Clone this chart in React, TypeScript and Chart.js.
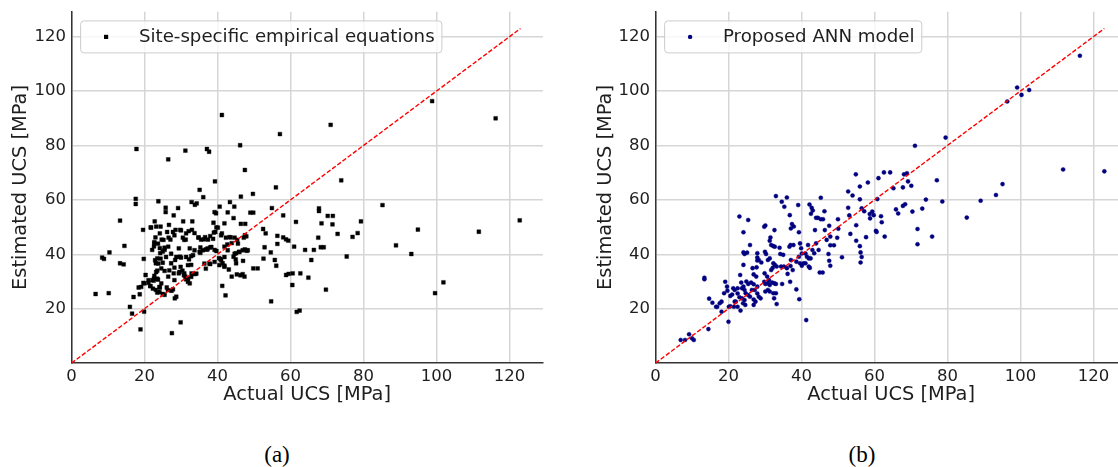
import React, { useEffect, useRef } from 'react';
import { Chart, registerables } from 'chart.js';

Chart.register(...registerables);

// ---------- data ----------
const actualA = [
  41.2, 17.8, 31.2, 37.1, 37.7, 46.2, 26.5, 47.5, 57.1, 71.0, 98.8, 116.2, 73.9, 39.3, 56.0, 35.1, 36.1, 49.7, 46.4, 17.6,
  17.6, 23.8, 34.3, 33.8, 32.9, 43.4, 85.2, 25.8, 29.2, 40.6, 44.6, 54.9, 67.8, 67.8, 25.8, 39.2, 39.6, 42.8, 49.0, 49.8,
  28.0, 58.0, 70.2, 71.6, 13.3, 22.8, 30.6, 33.1, 38.9, 41.9, 44.4, 46.4, 47.6, 61.5, 68.5, 71.5, 79.3, 122.8, 26.7, 21.7,
  19.6, 52.5, 53.2, 39.7, 94.9, 111.6, 72.9, 78.4, 77.0, 67.6, 56.4, 58.0, 58.8, 59.4, 23.0, 24.2, 28.2, 29.8, 31.4, 34.8,
  36.3, 38.0, 39.0, 41.2, 43.6, 45.4, 47.5, 22.7, 25.2, 26.5, 29.4, 30.9, 32.4, 14.5, 8.4, 8.9, 10.4, 13.3, 14.3, 6.6,
  10.2, 16.0, 16.6, 17.0, 18.4, 18.9, 18.7, 19.9, 19.8, 20.3, 19.7, 21.1, 21.6, 22.2, 22.7, 23.5, 22.5, 23.5, 23.1, 23.5,
  24.1, 24.1, 26.1, 25.5, 27.4, 28.3, 27.5, 29.9, 23.1, 23.5, 24.3, 22.1, 25.0, 25.5, 25.0, 26.5, 27.3, 28.0, 28.2, 28.4,
  29.7, 29.9, 30.4, 30.9, 29.4, 31.2, 31.4, 31.9, 32.4, 32.8, 32.2, 33.3, 32.9, 33.8, 35.3, 35.3, 36.8, 37.3, 38.0, 36.8,
  38.0, 39.2, 40.4, 40.8, 41.4, 41.9, 41.3, 42.2, 41.9, 42.7, 43.1, 43.9, 44.4, 45.0, 45.1, 45.1, 45.3, 46.3, 46.9, 47.4,
  45.9, 47.0, 47.5, 48.0, 49.8, 51.0, 52.6, 52.9, 54.6, 55.7, 56.1, 56.4, 54.7, 58.8, 59.5, 60.6, 60.5, 61.0, 61.7, 62.5,
  62.7, 64.9, 64.0, 65.7, 66.4, 68.3, 69.1, 69.7, 75.4, 88.9, 93.1, 99.6, 101.9,
  21.8, 23.2, 24.4, 26.2, 26.6, 24.7, 22.7, 23.7, 22.6, 24.2, 25.5, 27.1, 27.8, 28.5, 30.0, 30.5, 31.3, 32.1, 33.0, 33.7,
  34.8, 35.5, 36.6, 37.4, 38.8, 39.4, 40.1, 41.0, 42.3, 43.3, 43.9, 44.7, 45.6, 47.2, 47.9, 48.3, 46.9, 46.0, 44.7, 42.8,
  41.9, 41.0, 39.7, 38.3, 37.2, 36.0, 35.1, 33.7, 32.8, 31.4, 30.0, 28.7, 27.3, 25.9, 24.4, 22.9, 23.8, 24.6, 25.5, 26.8,
  28.2, 29.6, 30.8, 31.9, 32.8, 34.2, 36.4, 37.8, 39.2, 40.5, 41.9, 31.9, 23.2, 22.6, 23.7, 24.6, 24.2, 23.7, 25.0, 26.4,
  27.8, 28.7, 21.1, 20.0, 19.1, 21.6, 22.3,
];
const estimatedA = [
  91.2, 78.7, 78.1, 78.7, 77.7, 80.1, 74.9, 71.0, 84.2, 87.6, 96.3, 90.0, 67.2, 66.8, 64.6, 63.7, 61.0, 62.2, 61.2, 60.4,
  58.5, 59.5, 58.7, 58.2, 59.2, 59.2, 58.1, 57.1, 57.0, 57.5, 57.5, 57.0, 56.9, 55.9, 55.5, 55.5, 55.1, 55.4, 55.3, 55.3,
  54.3, 54.3, 54.1, 54.1, 52.4, 52.1, 52.1, 52.1, 51.6, 51.4, 53.3, 51.2, 51.2, 51.9, 51.4, 51.0, 52.1, 52.5, 50.8, 49.9,
  49.0, 49.3, 47.7, 49.9, 49.1, 48.3, 47.5, 47.8, 46.4, 46.1, 46.8, 46.2, 45.5, 45.0, 46.2, 47.7, 47.0, 49.0, 47.7, 46.2,
  45.5, 46.7, 48.0, 47.7, 46.2, 45.3, 47.0, 44.0, 45.3, 42.8, 42.2, 45.3, 42.2, 43.1, 38.8, 38.3, 40.7, 36.7, 36.3, 25.4,
  25.7, 20.7, 18.2, 24.3, 27.8, 12.4, 25.3, 18.9, 38.3, 32.4, 29.5, 29.5, 28.3, 30.5, 32.1, 34.0, 30.3, 31.0, 26.9, 25.9,
  28.0, 26.1, 27.8, 25.1, 26.6, 23.8, 11.0, 15.0, 36.7, 38.5, 40.4, 41.6, 41.0, 41.6, 36.9, 31.8, 36.7, 33.0, 30.5, 37.9,
  39.1, 35.4, 34.0, 33.0, 33.0, 31.8, 30.8, 29.9, 29.3, 36.1, 38.1, 39.7, 33.0, 32.7, 42.5, 40.5, 41.8, 42.2, 42.5, 34.7,
  36.4, 41.6, 38.6, 38.3, 36.7, 35.8, 28.4, 24.9, 42.8, 43.6, 34.4, 31.8, 39.1, 38.1, 40.4, 36.7, 32.6, 32.3, 32.7, 31.8,
  40.9, 37.6, 41.8, 41.3, 34.8, 34.8, 38.4, 42.6, 40.7, 37.9, 35.8, 43.8, 22.7, 32.4, 32.8, 33.0, 28.7, 42.8, 18.8, 19.3,
  33.0, 31.4, 41.6, 37.9, 41.6, 42.6, 42.6, 27.0, 39.2, 43.3, 40.1, 25.7, 29.7,
  49.8, 50.2, 50.2, 48.2, 46.1, 45.4, 44.5, 43.9, 42.9, 42.3, 42.4, 45.4, 48.2, 49.0, 48.8, 46.1, 45.4, 48.5, 49.0, 47.8,
  46.1, 45.4, 46.3, 45.4, 45.7, 48.2, 49.8, 47.0, 46.1, 46.3, 44.1, 46.1, 43.9, 46.1, 46.6, 41.5, 41.5, 40.9, 40.2, 41.5,
  39.0, 37.8, 41.2, 42.7, 41.7, 41.5, 40.9, 41.5, 39.3, 39.0, 38.8, 39.0, 40.2, 39.0, 38.4, 37.8, 36.6, 34.8, 33.9, 34.1,
  35.1, 33.5, 32.3, 31.1, 31.7, 32.9, 36.6, 36.6, 37.2, 36.0, 35.4, 36.0, 33.5, 31.1, 30.7, 29.3, 27.8, 26.2, 25.4, 26.8,
  27.1, 24.4, 30.5, 29.3, 28.0, 28.3, 27.4,
];
const actualB = [
  116.3, 99.1, 100.3, 102.4, 96.4, 79.5, 71.1, 111.7, 123.0, 95.1, 93.3, 89.1, 85.3, 74.1, 77.1, 78.6, 73.1, 75.8, 71.8, 71.8,
  70.1, 68.1, 68.9, 69.2, 67.8, 67.8, 68.4, 70.4, 65.2, 65.9, 66.5, 62.6, 64.3, 61.1, 60.8, 61.8, 62.0, 62.8, 60.4, 60.6,
  58.2, 58.7, 58.8, 59.4, 59.8, 57.7, 54.9, 56.0, 56.0, 56.5, 57.2, 54.0, 52.8, 52.8, 53.1, 53.4, 55.0, 55.0, 56.0, 56.2,
  56.5, 56.2, 51.1, 50.0, 50.1, 49.8, 48.9, 47.9, 47.9, 47.6, 47.4, 47.6, 47.9, 46.3, 45.9, 46.4, 46.9, 45.3, 45.3, 44.7,
  45.0, 45.8, 43.7, 44.0, 44.5, 44.0, 43.1, 42.6, 42.2, 42.8, 43.0, 43.5, 42.5, 41.8, 42.0, 41.1, 41.5, 41.1, 42.0, 42.3,
  41.3, 39.1, 39.3, 39.6, 39.9, 40.1, 39.3, 38.6, 39.6, 40.1, 40.6, 39.4, 38.6, 37.9, 37.1, 37.4, 36.8, 37.8, 37.0, 36.7,
  37.1, 36.9, 37.6, 36.0, 34.6, 35.3, 33.0, 32.6, 31.5, 31.3, 31.7, 34.0, 34.2, 35.0, 32.3, 32.7, 29.8, 30.1, 30.0, 30.3,
  30.8, 31.3, 28.3, 27.9, 27.9, 27.9, 29.0, 32.3, 32.7, 33.2, 32.1, 31.7, 34.4, 35.2, 36.0, 36.2, 37.0, 29.9, 30.6, 31.1,
  29.8, 30.1, 30.8, 31.3, 32.0, 32.6, 33.0, 30.8, 30.1, 31.3, 32.3, 33.0, 32.5, 33.2, 34.7, 24.1, 25.4, 24.1, 24.4, 23.0,
  24.1, 25.1, 25.9, 26.6, 27.7, 26.9, 27.6, 23.2, 24.1, 24.4, 23.5, 23.7, 24.9, 25.4, 26.2, 26.9, 26.4, 27.2, 27.9, 24.7,
  25.4, 25.9, 26.9, 27.4, 26.9, 28.3, 28.8, 27.9, 23.7, 24.4, 24.0, 24.6, 22.5, 23.0, 22.0, 22.5, 21.3, 21.7, 21.7, 22.5,
  21.5, 23.3, 20.5, 21.0, 19.6, 19.7, 19.1, 18.8, 18.1, 17.6, 16.6, 16.9, 18.1, 15.6, 14.7, 14.5, 20.0, 20.1, 20.5, 13.4,
  13.4, 6.9, 8.1, 9.2, 10.0, 10.5,
];
const estimatedB = [
  113.0, 101.3, 98.6, 100.4, 96.2, 82.9, 79.9, 71.2, 70.5, 65.8, 61.8, 59.7, 53.5, 60.1, 67.2, 59.4, 56.8, 46.5, 49.3, 43.7,
  65.2, 69.4, 69.8, 66.8, 64.6, 57.8, 58.4, 55.7, 64.3, 56.5, 55.0, 70.1, 70.1, 68.0, 60.3, 54.0, 51.8, 46.5, 48.6, 48.2,
  66.4, 54.8, 53.2, 55.7, 54.4, 46.3, 69.4, 64.9, 60.2, 56.9, 55.8, 61.6, 63.1, 57.1, 54.3, 47.5, 50.7, 45.0, 43.0, 40.7,
  39.0, 37.0, 38.9, 52.9, 49.4, 46.1, 43.3, 46.5, 43.3, 50.5, 40.1, 37.6, 35.8, 55.8, 52.9, 48.9, 45.3, 60.8, 52.9, 41.6,
  33.3, 33.3, 48.9, 53.4, 53.4, 44.0, 56.1, 54.9, 58.3, 57.1, 41.6, 40.4, 38.5, 43.4, 38.5, 40.3, 39.1, 36.7, 35.5, 35.0,
  15.8, 58.1, 48.1, 44.0, 42.2, 40.3, 39.1, 37.3, 36.7, 35.8, 36.7, 23.5, 27.1, 50.2, 49.5, 51.1, 54.4, 43.4, 43.4, 42.8,
  37.9, 29.9, 34.2, 60.9, 59.3, 57.5, 61.4, 48.9, 46.2, 45.0, 43.4, 42.4, 40.1, 39.8, 43.0, 42.8, 50.1, 50.6, 40.9, 40.1,
  37.9, 38.5, 37.9, 40.4, 38.8, 37.7, 37.0, 36.7, 36.1, 35.5, 35.0, 34.2, 35.5, 35.5, 34.9, 32.8, 35.7, 33.0, 31.8, 30.5,
  29.9, 29.1, 29.3, 28.7, 29.6, 29.3, 29.1, 26.9, 26.3, 26.3, 25.7, 25.7, 23.8, 21.7, 29.1, 48.1, 52.6, 40.7, 40.1, 53.9,
  36.1, 40.6, 43.4, 34.9, 35.2, 32.6, 31.8, 32.4, 28.1, 26.9, 29.6, 27.5, 30.0, 29.1, 29.6, 29.0, 26.9, 26.9, 28.1, 25.7,
  25.0, 24.4, 23.4, 22.6, 21.4, 24.4, 23.8, 25.6, 23.8, 23.2, 22.0, 21.4, 25.6, 24.2, 22.6, 27.5, 27.5, 26.9, 22.6, 20.7,
  20.7, 19.3, 24.7, 25.2, 28.1, 26.6, 29.9, 25.7, 22.6, 22.0, 20.7, 20.7, 18.9, 22.2, 23.7, 12.5, 15.2, 20.7, 20.9, 31.4,
  30.8, 8.5, 8.5, 10.6, 9.1, 8.5,
];

const xTickValues = [0, 20, 40, 60, 80, 100, 120];
const yTickValues = [20, 40, 60, 80, 100, 120];
const axisMin = 0;
const axisMax = 129.15;
const identityLine = [0, 123];

const labelA = 'Site-specific empirical equations';
const labelB = 'Proposed ANN model';
const xTitle = 'Actual UCS [MPa]';
const yTitle = 'Estimated UCS [MPa]';
const captionA = '(a)';
const captionB = '(b)';

// ---------- styling ----------
const FONT = '"DejaVu Sans", "Liberation Sans", sans-serif';
const TEXT = '#1e1e1e';
const GRID = '#d6d6d6';
const SPINE = '#333333';
const CANVAS_H = 420;
const AXIS_LEFT = 71.5;
const PLOT_TOP = 11.8;
const PLOT_BOTTOM = 363.1;

const legendPlugin = {
  id: 'mplLegend',
  afterDatasetsDraw(chart: any, _args: any, opts: any) {
    const { ctx, chartArea } = chart;
    const fs = 18.2;
    ctx.save();
    ctx.font = `${fs}px ${FONT}`;
    const tw = ctx.measureText(opts.text).width;
    const bx = chartArea.left + 9.1;
    const by = chartArea.top + 9.1;
    const bw = 58.3 + tw + 7.3;
    const bh = 32;
    const r = 3.5;
    ctx.beginPath();
    ctx.moveTo(bx + r, by);
    ctx.lineTo(bx + bw - r, by);
    ctx.arcTo(bx + bw, by, bx + bw, by + r, r);
    ctx.lineTo(bx + bw, by + bh - r);
    ctx.arcTo(bx + bw, by + bh, bx + bw - r, by + bh, r);
    ctx.lineTo(bx + r, by + bh);
    ctx.arcTo(bx, by + bh, bx, by + bh - r, r);
    ctx.lineTo(bx, by + r);
    ctx.arcTo(bx, by, bx + r, by, r);
    ctx.closePath();
    ctx.fillStyle = 'rgba(255,255,255,0.8)';
    ctx.fill();
    ctx.strokeStyle = '#cccccc';
    ctx.lineWidth = 1;
    ctx.stroke();
    const cy = by + bh / 2;
    const mx = bx + 25.5;
    ctx.fillStyle = opts.color;
    if (opts.marker === 'rect') {
      ctx.fillRect(mx - 2.1, cy - 2.1, 4.2, 4.2);
    } else {
      ctx.beginPath();
      ctx.arc(mx, cy, 2.2, 0, Math.PI * 2);
      ctx.fill();
    }
    ctx.fillStyle = TEXT;
    ctx.textBaseline = 'middle';
    ctx.textAlign = 'left';
    ctx.fillText(opts.text, bx + 58.3, cy);
    ctx.restore();
  },
};

type PanelProps = {
  xs: number[];
  ys: number[];
  label: string;
  color: string;
  marker: 'rect' | 'circle';
  left: number;
  width: number;
  padRight: number;
  yTitlePad: number;
};

function ScatterPanel({ xs, ys, label, color, marker, left, width, padRight, yTitlePad }: PanelProps) {
  const ref = useRef<HTMLCanvasElement>(null);

  useEffect(() => {
    if (!ref.current) return;
    const points = xs.map((x, i) => ({ x, y: ys[i] }));
    const linePts = identityLine.map((v) => ({ x: v, y: v }));
    const tickFont = { family: FONT, size: 16.5 };
    const titleFont = { family: FONT, size: 19.4 };
    const chart = new Chart(ref.current, {
      type: 'scatter',
      data: {
        datasets: [
          {
            type: 'line',
            label: 'identity',
            data: linePts,
            showLine: true,
            borderColor: '#ff0000',
            borderWidth: 1.4,
            borderDash: [4.5, 2],
            pointRadius: 0,
            fill: false,
            order: 0,
          } as any,
          {
            label,
            data: points,
            pointStyle: marker,
            pointRadius: marker === 'rect' ? 2.7 : 2.05,
            pointBorderWidth: 0.4,
            backgroundColor: color,
            borderColor: color,
            pointBackgroundColor: color,
            pointBorderColor: color,
            order: 1,
          },
        ],
      },
      options: {
        responsive: false,
        animation: false,
        devicePixelRatio: 1,
        layout: { padding: { left: 0, top: PLOT_TOP, right: padRight, bottom: 0 } },
        plugins: {
          legend: { display: false },
          tooltip: { enabled: false },
          mplLegend: { text: label, color, marker },
        } as any,
        scales: {
          x: {
            type: 'linear',
            min: axisMin,
            max: axisMax,
            afterBuildTicks: (s: any) => {
              s.ticks = xTickValues.map((v) => ({ value: v }));
            },
            afterFit: (s: any) => {
              s.height = CANVAS_H - PLOT_BOTTOM;
              s.paddingLeft = 0;
              s.paddingRight = 0;
            },
            grid: { color: GRID, lineWidth: 1.5, drawTicks: false },
            border: { display: true, color: SPINE, width: 1.5 },
            ticks: { padding: 4, color: TEXT, font: tickFont, maxRotation: 0, autoSkip: false },
            title: { display: true, text: xTitle, color: TEXT, font: titleFont, padding: { top: 0, bottom: 13.4 } },
          },
          y: {
            type: 'linear',
            min: axisMin,
            max: axisMax,
            afterBuildTicks: (s: any) => {
              s.ticks = yTickValues.map((v) => ({ value: v }));
            },
            afterFit: (s: any) => {
              s.width = AXIS_LEFT;
              s.paddingTop = 0;
              s.paddingBottom = 0;
            },
            grid: { color: GRID, lineWidth: 1.5, drawTicks: false },
            border: { display: true, color: SPINE, width: 1.5 },
            ticks: { padding: 5.4, color: TEXT, font: tickFont, autoSkip: false },
            title: { display: true, text: yTitle, color: TEXT, font: titleFont, padding: { top: yTitlePad, bottom: 0 } },
          },
        },
      } as any,
      plugins: [legendPlugin as any],
    });
    return () => chart.destroy();
  }, []);

  return (
    <canvas
      ref={ref}
      width={width}
      height={CANVAS_H}
      style={{ position: 'absolute', left, top: 0, width, height: CANVAS_H, display: 'block' }}
    />
  );
}

const captionStyle = (cx: number): React.CSSProperties => ({
  position: 'absolute',
  left: cx,
  top: 455 - 12,
  transform: 'translateX(-50%)',
  fontFamily: '"Liberation Serif", "Times New Roman", serif',
  fontSize: 23,
  lineHeight: '24px',
  color: '#000',
  whiteSpace: 'nowrap',
});

export default function App() {
  return (
    <div
      style={{
        position: 'absolute',
        left: 0,
        top: 0,
        width: 1118,
        height: 467,
        overflow: 'hidden',
        background: '#ffffff',
      }}
    >
      <ScatterPanel
        xs={actualA}
        ys={estimatedA}
        label={labelA}
        color="#000000"
        marker="rect"
        left={0}
        width={580}
        padRight={580 - 542.9}
        yTitlePad={8.9}
      />
      <ScatterPanel
        xs={actualB}
        ys={estimatedB}
        label={labelB}
        color="#000080"
        marker="circle"
        left={584}
        width={560}
        padRight={560 - (655.4 - 584 + 129.15 * 3.65) + 584 - 584}
        yTitlePad={9.9}
      />
      <div style={captionStyle(277)}>{captionA}</div>
      <div style={captionStyle(862)}>{captionB}</div>
    </div>
  );
}
